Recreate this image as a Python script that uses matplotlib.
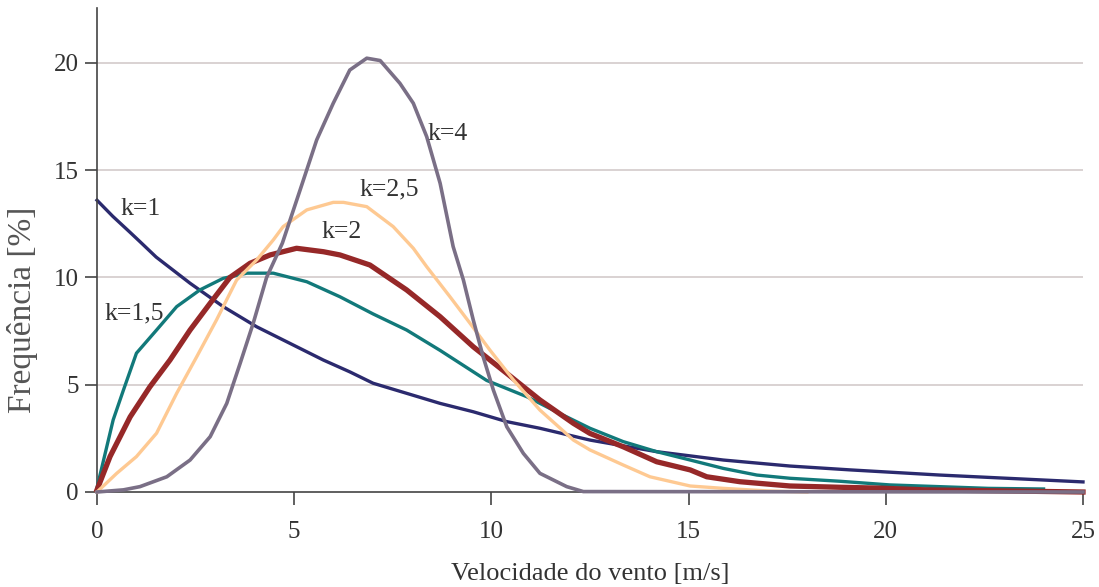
import matplotlib.pyplot as plt

# valores (velocidade [m/s], frequência [%])
v_k1 = [0, 0.4, 0.84, 1.1, 1.5, 2.36, 3.2, 4.05, 4.89, 5.74, 6.41, 7.0, 7.85, 8.7,
        9.54, 10.39, 11.23, 12.5, 14.19, 15.88, 17.57, 19.1, 21.37, 25]
f_k1 = [13.6, 12.85, 12.1, 11.65, 10.95, 9.73, 8.64, 7.7, 6.93, 6.15, 5.6, 5.07, 4.6, 4.13,
        3.74, 3.28, 2.97, 2.42, 1.88, 1.49, 1.21, 1.03, 0.79, 0.47]

v_k15 = [0, 0.41, 0.67, 1.0, 1.51, 2.02, 2.61, 3.2, 3.8, 4.47, 5.32, 6.16, 7.0, 7.85,
         8.7, 9.88, 10.9, 11.8, 12.5, 13.34, 14.19, 15.04, 15.88, 16.73, 17.57, 18.84,
         20.1, 22.6, 24.0]
f_k15 = [0.2, 3.36, 4.75, 6.47, 7.55, 8.64, 9.42, 9.96, 10.2, 10.2, 9.8, 9.1, 8.3, 7.55,
         6.6, 5.2, 4.44, 3.6, 2.97, 2.35, 1.88, 1.49, 1.1, 0.79, 0.64, 0.5,
         0.33, 0.17, 0.14]

v_k2 = [0, 0.33, 0.84, 1.34, 1.85, 2.36, 2.87, 3.37, 3.88, 4.39, 5.06, 5.74, 6.16, 6.92,
        7.85, 8.7, 9.54, 10.39, 11.23, 12.08, 12.5, 13.34, 14.19, 15.04, 15.46, 16.3,
        17.57, 18.84, 19.85, 21, 25]
f_k2 = [0.1, 1.65, 3.5, 4.9, 6.15, 7.55, 8.8, 10.0, 10.66, 11.05, 11.36, 11.2, 11.05, 10.58,
        9.42, 8.17, 6.77, 5.53, 4.29, 3.2, 2.73, 2.11, 1.41, 1.03, 0.71, 0.48,
        0.28, 0.22, 0.18, 0.1, 0.0]

v_k25 = [0, 0.5, 1.0, 1.51, 2.02, 2.53, 3.03, 3.54, 4.05, 4.47, 4.72, 5.32, 5.99, 6.25,
         6.84, 7.51, 8.02, 8.36, 8.95, 9.46, 9.96, 10.56, 11.23, 12.08, 12.5, 13.34,
         14.02, 15.04, 15.88, 17.0, 18.0]
f_k25 = [0, 0.87, 1.65, 2.74, 4.6, 6.31, 8.02, 9.88, 10.82, 11.75, 12.37, 13.15, 13.5, 13.5,
         13.3, 12.37, 11.36, 10.5, 9.1, 7.86, 6.62, 5.22, 3.82, 2.42, 1.96, 1.26,
         0.71, 0.28, 0.17, 0.05, 0.0]

v_k4 = [0, 0.67, 1.09, 1.77, 2.36, 2.87, 3.29, 3.63, 3.96, 4.3, 4.7, 5.15, 5.57, 5.99,
        6.41, 6.84, 7.18, 7.68, 8.02, 8.36, 8.7, 9.03, 9.29, 9.54, 9.79, 10.05, 10.39,
        10.81, 11.23, 11.91, 12.33, 25]
f_k4 = [0, 0.1, 0.25, 0.71, 1.49, 2.58, 4.13, 6.0, 7.86, 10.0, 11.6, 14.08, 16.41, 18.12,
        19.67, 20.22, 20.11, 19.05, 18.12, 16.56, 14.39, 11.44, 9.88, 8.02, 6.31, 4.75, 3.04,
        1.8, 0.87, 0.25, 0.02, 0.0]

plt.rcParams["font.family"] = ["Liberation Serif", "DejaVu Serif"]

fig = plt.figure(figsize=(10.99, 5.87), dpi=100)
ax = fig.add_axes([97 / 1099, 1 - 492 / 587, (1083 - 97) / 1099, (492 - 8) / 587])

for y in [5, 10, 15, 20]:
    ax.axhline(y, color="#d3cbcb", lw=1.2, zorder=0)

ax.plot(v_k1, f_k1, color="#2b2a6e", lw=2.4, clip_on=False, zorder=2)
ax.plot(v_k15, f_k15, color="#12797a", lw=2.4, clip_on=False, zorder=3)
ax.plot(v_k2, f_k2, color="#962828", lw=3.8, clip_on=False, zorder=4)
ax.plot(v_k25, f_k25, color="#fec992", lw=2.4, clip_on=False, zorder=5)
ax.plot(v_k4, f_k4, color="#7a6f86", lw=2.6, clip_on=False, zorder=6)

lab = dict(fontsize=18.5, color="#333333", zorder=7)
ax.text(0.6, 13.2, "k=1", ha="left", va="center", **lab)
ax.text(0.2, 8.3, "k=1,5", ha="left", va="center", **lab)
ax.text(6.2, 12.1, "k=2", ha="center", va="center", **lab)
ax.text(7.4, 14.1, "k=2,5", ha="center", va="center", **lab)
ax.text(8.9, 16.7, "k=4", ha="center", va="center", **lab)

ax.set_xlim(0, 25)
ax.set_ylim(0, 22.56)
ax.set_xticks([0, 5, 10, 15, 20, 25])
ax.set_yticks([0, 5, 10, 15, 20])

for s in ["top", "right"]:
    ax.spines[s].set_visible(False)
for s in ["left", "bottom"]:
    ax.spines[s].set_color("#444444")
    ax.spines[s].set_linewidth(1.2)

ax.tick_params(axis="both", colors="#444444", labelcolor="#333333", labelsize=18,
               length=9, width=1.2)
ax.tick_params(axis="x", pad=12)
ax.tick_params(axis="y", pad=4)

ax.set_xlabel("Velocidade do vento [m/s]", fontsize=19, color="#333333", labelpad=14)
ax.set_ylabel("Frequência [%]", fontsize=24, color="#555555")
ax.yaxis.set_label_coords(-0.06, 0.376)

fig.savefig("out.png", dpi=100)
